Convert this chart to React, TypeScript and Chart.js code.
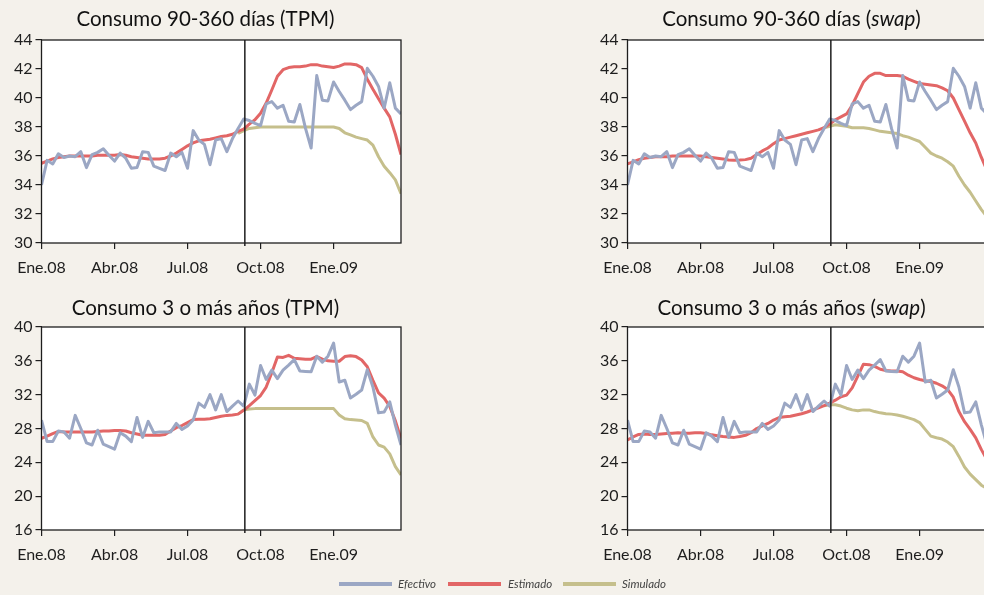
import { useEffect, useRef } from "react";
import { Chart, registerables } from "chart.js";

Chart.register(...registerables);

// ---- Data (weekly observations, week 0 = first week of Jan 2008) ----
const X_TICKS = [0, 13, 26, 39, 52];
const X_LABELS = ["Ene.08", "Abr.08", "Jul.08", "Oct.08", "Ene.09"];
const X_MAX = 64;
const BREAK_WEEK = 36.2; // vertical line (mid-September 2008)
const SIM_START = 35; // first week of the "Simulado" series

const EFECTIVO_90_360 = [
  34.0, 35.7, 35.45, 36.15, 35.9, 36.0, 35.95, 36.3, 35.2, 36.1,
  36.25, 36.5, 36.05, 35.65, 36.2, 35.85, 35.15, 35.2, 36.3, 36.25,
  35.3, 35.15, 35.0, 36.2, 35.95, 36.25, 35.15, 37.75, 37.1, 36.8,
  35.4, 37.1, 37.2, 36.3, 37.2, 37.9, 38.55, 38.45, 38.25, 38.1,
  39.6, 39.75, 39.3, 39.5, 38.4, 38.35, 39.55, 37.9, 36.55, 41.55,
  39.85, 39.8, 41.1, 40.45, 39.85, 39.2, 39.5, 39.75, 42.05, 41.5,
  40.8, 39.3, 41.05, 39.3, 38.9,
];
const EFECTIVO_3_MAS = [
  29.0, 26.45, 26.45, 27.7, 27.6, 26.85, 29.55, 28.0, 26.3, 26.05,
  27.8, 26.15, 25.85, 25.55, 27.5, 27.1, 26.45, 29.3, 26.95, 28.85,
  27.5, 27.6, 27.6, 27.6, 28.6, 27.9, 28.3, 29.0, 31.0, 30.5,
  32.0, 30.2, 32.0, 30.0, 30.65, 31.25, 30.65, 33.25, 31.95, 35.45,
  33.8, 34.9, 33.9, 34.9, 35.5, 36.15, 34.8, 34.75, 34.7, 36.55,
  35.85, 36.55, 38.1, 33.5, 33.7, 31.6, 32.05, 32.55, 34.95, 32.9,
  29.85, 29.95, 31.15, 28.4, 26.05,
];

const ESTIMADO_90_360_TPM = [
  35.5, 35.65, 35.8, 35.9, 35.95, 36.0, 36.0, 36.0, 36.0, 36.0,
  36.05, 36.05, 36.05, 36.05, 36.1, 36.05, 35.95, 35.9, 35.85, 35.8,
  35.8, 35.8, 35.85, 36.0, 36.2, 36.45, 36.7, 36.9, 37.05, 37.1,
  37.15, 37.25, 37.35, 37.4, 37.5, 37.7, 37.85, 38.2, 38.5, 38.95,
  39.65, 40.55, 41.5, 41.95, 42.1, 42.15, 42.15, 42.2, 42.3, 42.3,
  42.2, 42.15, 42.1, 42.2, 42.35, 42.35, 42.3, 42.1, 41.3, 40.6,
  39.95, 39.3, 38.7, 37.5, 36.1,
];
const SIMULADO_90_360_TPM = [
  37.55, 37.75, 37.9, 37.95, 38.0, 38.0, 38.0, 38.0, 38.0, 38.0,
  38.0, 38.0, 38.0, 38.0, 38.0, 38.0, 38.0, 38.0, 37.9, 37.6,
  37.45, 37.3, 37.2, 37.1, 36.75, 35.95, 35.3, 34.85, 34.35, 33.4,
];

const ESTIMADO_90_360_SWAP = [
  35.45, 35.6, 35.75, 35.85, 35.9, 35.95, 35.95, 35.95, 36.0, 36.0,
  36.0, 36.0, 36.0, 36.0, 35.95, 35.9, 35.85, 35.8, 35.72, 35.7,
  35.72, 35.75, 35.85, 36.1, 36.35, 36.55, 36.85, 37.1, 37.2, 37.3,
  37.4, 37.5, 37.6, 37.7, 37.8, 37.95, 38.2, 38.5, 38.7, 38.9,
  39.5, 40.3, 41.1, 41.5, 41.7, 41.7, 41.55, 41.55, 41.55, 41.5,
  41.3, 41.15, 41.0, 40.95, 40.9, 40.85, 40.7, 40.5, 40.0, 39.2,
  38.4, 37.6, 36.9, 35.9, 35.0,
];
const SIMULADO_90_360_SWAP = [
  37.95, 38.05, 38.15, 38.1, 38.05, 37.95, 37.95, 37.95, 37.9, 37.8,
  37.7, 37.65, 37.6, 37.55, 37.4, 37.3, 37.15, 37.0, 36.6, 36.2,
  36.0, 35.85, 35.6, 35.3, 34.6, 34.0, 33.5, 32.9, 32.3, 31.8,
];

const ESTIMADO_3_TPM = [
  26.85, 27.1, 27.4, 27.65, 27.6, 27.6, 27.6, 27.6, 27.6, 27.6,
  27.65, 27.7, 27.7, 27.75, 27.75, 27.7, 27.5, 27.35, 27.2, 27.2,
  27.2, 27.2, 27.3, 27.7, 28.1, 28.35, 28.7, 29.05, 29.1, 29.1,
  29.15, 29.3, 29.45, 29.55, 29.6, 29.7, 30.15, 30.7, 31.3, 31.9,
  32.9, 34.6, 36.45, 36.4, 36.65, 36.3, 36.25, 36.2, 36.2, 36.5,
  36.2, 36.0, 35.95, 35.95, 36.5, 36.6, 36.5, 36.1, 35.3, 33.7,
  32.2, 31.6, 30.6, 28.9, 26.8,
];
const SIMULADO_3_TPM = [
  29.7, 30.2, 30.3, 30.35, 30.35, 30.35, 30.35, 30.35, 30.35, 30.35,
  30.35, 30.35, 30.35, 30.35, 30.35, 30.35, 30.35, 30.35, 29.6, 29.15,
  29.05, 29.0, 28.95, 28.6, 27.0, 26.05, 25.8, 25.0, 23.5, 22.5,
];

const ESTIMADO_3_SWAP = [
  26.65, 27.0, 27.3, 27.35, 27.3, 27.3, 27.35, 27.4, 27.45, 27.5,
  27.45, 27.45, 27.5, 27.5, 27.4, 27.25, 27.15, 27.05, 27.0, 26.95,
  27.05, 27.2, 27.5, 28.0, 28.3, 28.6, 29.0, 29.3, 29.4, 29.45,
  29.6, 29.75, 29.95, 30.2, 30.45, 30.7, 31.0, 31.35, 31.75, 31.95,
  32.8, 34.2, 35.6, 35.55, 35.35, 35.0, 34.85, 34.8, 34.8, 34.7,
  34.3, 34.0, 33.8, 33.65, 33.55, 33.35, 33.05, 32.6, 31.7, 30.0,
  28.8, 27.9, 26.9, 25.5, 24.3,
];
const SIMULADO_3_SWAP = [
  30.7, 30.8, 30.8, 30.65, 30.4, 30.2, 30.1, 30.2, 30.2, 30.0,
  29.85, 29.75, 29.7, 29.6, 29.45, 29.25, 29.05, 28.7, 27.9, 27.1,
  26.9, 26.75, 26.4, 25.85, 24.7, 23.45, 22.6, 21.95, 21.3, 20.9,
];

const LEGEND_LABELS = ["Efectivo", "Estimado", "Simulado"];

// ---- Styles ----
const BG = "#f4f1eb";
const BLUE = "#9ba7c4";
const RED = "#e26666";
const OLIVE = "#c5bf8c";
const INK = "#1e1e1e";
const TICK_FONT = "'Liberation Sans Narrow', 'Arial Narrow', Lato, sans-serif";
const TITLE_FONT = "Lato, 'Liberation Sans', sans-serif";

type TitlePart = { text: string; italic?: boolean };
type PanelCfg = {
  left: number;
  top: number;
  title: TitlePart[];
  titleBaseline: number;
  yMin: number;
  yMax: number;
  yStep: number;
  efectivo: number[];
  estimado: number[];
  simulado: number[];
};

const PANELS: PanelCfg[] = [
  {
    left: 0, top: 0, titleBaseline: 26,
    title: [{ text: "Consumo 90-360 días (TPM)" }],
    yMin: 30, yMax: 44, yStep: 2,
    efectivo: EFECTIVO_90_360, estimado: ESTIMADO_90_360_TPM, simulado: SIMULADO_90_360_TPM,
  },
  {
    left: 586, top: 0, titleBaseline: 26,
    title: [{ text: "Consumo 90-360 días (" }, { text: "swap", italic: true }, { text: ")" }],
    yMin: 30, yMax: 44, yStep: 2,
    efectivo: EFECTIVO_90_360, estimado: ESTIMADO_90_360_SWAP, simulado: SIMULADO_90_360_SWAP,
  },
  {
    left: 0, top: 287, titleBaseline: 28,
    title: [{ text: "Consumo 3 o más años (TPM)" }],
    yMin: 16, yMax: 40, yStep: 4,
    efectivo: EFECTIVO_3_MAS, estimado: ESTIMADO_3_TPM, simulado: SIMULADO_3_TPM,
  },
  {
    left: 586, top: 287, titleBaseline: 28,
    title: [{ text: "Consumo 3 o más años (" }, { text: "swap", italic: true }, { text: ")" }],
    yMin: 16, yMax: 40, yStep: 4,
    efectivo: EFECTIVO_3_MAS, estimado: ESTIMADO_3_SWAP, simulado: SIMULADO_3_SWAP,
  },
];

const CW = 420;
const CH = 290;

function Panel({ cfg }: { cfg: PanelCfg }) {
  const ref = useRef<HTMLCanvasElement | null>(null);
  useEffect(() => {
    const canvas = ref.current;
    if (!canvas) return;
    const frame = {
      id: "frame",
      beforeDraw(chart: any) {
        const { ctx, chartArea: a } = chart;
        ctx.save();
        ctx.fillStyle = "#ffffff";
        ctx.fillRect(a.left, a.top, a.right - a.left, a.bottom - a.top);
        ctx.restore();
      },
      afterDatasetsDraw(chart: any) {
        const { ctx, chartArea: a } = chart;
        ctx.save();
        ctx.strokeStyle = INK;
        ctx.lineWidth = 1.3;
        ctx.strokeRect(a.left, a.top, a.right - a.left, a.bottom - a.top);
        const vx = chart.scales.x.getPixelForValue(BREAK_WEEK);
        ctx.lineWidth = 1.5;
        ctx.beginPath();
        ctx.moveTo(vx, a.top);
        ctx.lineTo(vx, a.bottom + 3);
        ctx.stroke();
        ctx.restore();
      },
      afterDraw(chart: any) {
        const { ctx } = chart;
        ctx.save();
        ctx.fillStyle = "#111";
        ctx.textBaseline = "alphabetic";
        ctx.textAlign = "left";
        const fontFor = (p: TitlePart) => `${p.italic ? "italic " : ""}20.5px ${TITLE_FONT}`;
        let total = 0;
        for (const p of cfg.title) {
          ctx.font = fontFor(p);
          total += ctx.measureText(p.text).width;
        }
        let x = 205.5 - total / 2;
        for (const p of cfg.title) {
          ctx.font = fontFor(p);
          ctx.fillText(p.text, x, cfg.titleBaseline);
          x += ctx.measureText(p.text).width;
        }
        ctx.restore();
      },
    };

    const line = (label: string, color: string, data: { x: number; y: number }[]) => ({
      label,
      data,
      borderColor: color,
      backgroundColor: color,
      borderWidth: 3,
      pointRadius: 0,
      tension: 0,
      fill: false,
      borderJoinStyle: "round" as const,
    });

    const chart = new Chart(canvas, {
      type: "line",
      data: {
        datasets: [
          line(LEGEND_LABELS[0], BLUE, cfg.efectivo.map((y, i) => ({ x: i, y }))),
          line(LEGEND_LABELS[1], RED, cfg.estimado.map((y, i) => ({ x: i, y }))),
          line(LEGEND_LABELS[2], OLIVE, cfg.simulado.map((y, i) => ({ x: SIM_START + i, y }))),
        ],
      },
      options: {
        responsive: false,
        animation: false,
        devicePixelRatio: 1,
        layout: { padding: { top: 40, right: 19, left: 0, bottom: 0 } },
        plugins: {
          legend: { display: false },
          tooltip: { enabled: false },
          title: { display: false },
        },
        scales: {
          x: {
            type: "linear",
            min: 0,
            max: X_MAX,
            afterBuildTicks: (s: any) => {
              s.ticks = X_TICKS.map((v) => ({ value: v }));
            },
            afterFit: (s: any) => {
              s.height = 47;
            },
            ticks: {
              autoSkip: false,
              maxRotation: 0,
              padding: 9,
              color: INK,
              font: { family: TICK_FONT, size: 16 },
              callback: (v: any) => {
                const i = X_TICKS.indexOf(Number(v));
                return i >= 0 ? X_LABELS[i] : "";
              },
            },
            grid: { drawOnChartArea: false, drawTicks: true, tickLength: 6, color: INK, lineWidth: 1.2 },
            border: { display: false },
          },
          y: {
            min: cfg.yMin,
            max: cfg.yMax,
            afterFit: (s: any) => {
              s.width = 41.5;
            },
            ticks: {
              stepSize: cfg.yStep,
              padding: 3,
              color: INK,
              font: { family: TICK_FONT, size: 16 },
            },
            grid: { drawOnChartArea: false, drawTicks: true, tickLength: 6, color: INK, lineWidth: 1.2 },
            border: { display: false },
          },
        },
      },
      plugins: [frame],
    } as any);
    return () => chart.destroy();
  }, [cfg]);
  return (
    <canvas
      ref={ref}
      width={CW}
      height={CH}
      style={{ position: "absolute", left: cfg.left, top: cfg.top, width: CW, height: CH }}
    />
  );
}

const LEGEND_ITEMS = [
  { color: BLUE, lineLeft: 339, textLeft: 398 },
  { color: RED, lineLeft: 448, textLeft: 508 },
  { color: OLIVE, lineLeft: 563, textLeft: 622 },
];

export default function App() {
  return (
    <div
      style={{
        position: "fixed",
        left: 0,
        top: 0,
        width: 984,
        height: 595,
        background: BG,
        overflow: "hidden",
      }}
    >
      {PANELS.map((p, i) => (
        <Panel key={i} cfg={p} />
      ))}
      {LEGEND_ITEMS.map((it, i) => (
        <div key={i}>
          <div
            style={{
              position: "absolute",
              left: it.lineLeft,
              top: 582,
              width: 53,
              height: 4,
              background: it.color,
            }}
          />
          <div
            style={{
              position: "absolute",
              left: it.textLeft,
              top: 576,
              fontFamily: TICK_FONT,
              fontStyle: "italic",
              fontSize: 11.5,
              lineHeight: "16px",
              color: "#444",
              whiteSpace: "nowrap",
            }}
          >
            {LEGEND_LABELS[i]}
          </div>
        </div>
      ))}
    </div>
  );
}
